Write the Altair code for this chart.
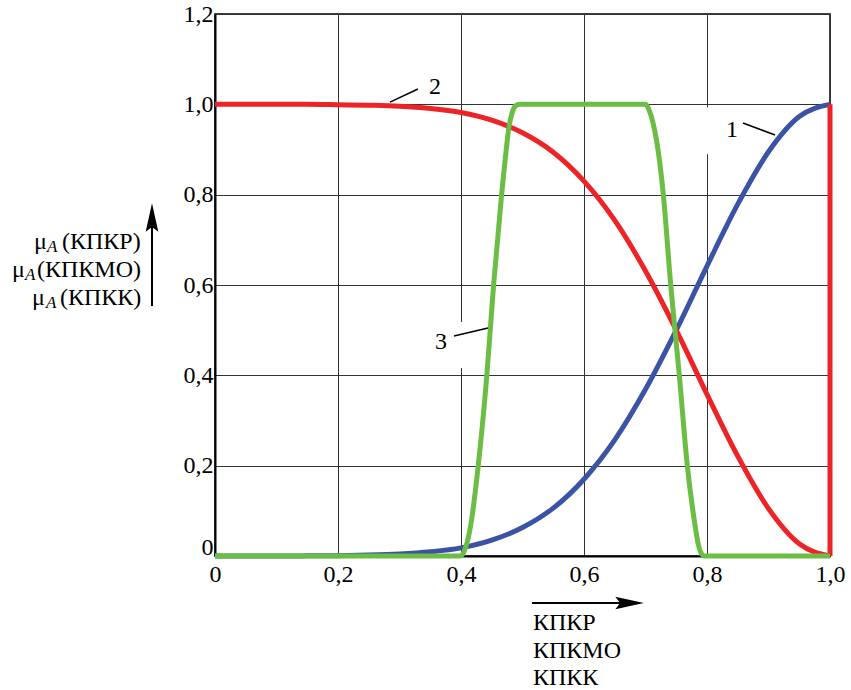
import altair as alt
import pandas as pd

# ---- data ----
x_grid = [0.0, 0.05, 0.1, 0.15, 0.2, 0.25, 0.3, 0.35, 0.4, 0.45, 0.5,
          0.55, 0.6, 0.65, 0.7, 0.75, 0.8, 0.85, 0.9, 0.95, 1.0]
blue_y = [0.0, 0.0, 0.0, 0.0003, 0.0008, 0.002, 0.0044, 0.0093, 0.018, 0.035, 0.063,
          0.106, 0.17, 0.257, 0.369, 0.5, 0.642, 0.779, 0.895, 0.973, 1.0]
red_y = [1.0, 1.0, 1.0, 1.0, 0.999, 0.998, 0.996, 0.991, 0.982, 0.965, 0.937,
         0.894, 0.83, 0.743, 0.631, 0.5, 0.358, 0.221, 0.105, 0.027, 0.0]
green_x = [0.0, 0.40, 0.405, 0.41, 0.416, 0.428, 0.442, 0.453, 0.466, 0.472, 0.478,
           0.484, 0.49, 0.496, 0.70, 0.706, 0.712, 0.718, 0.729, 0.741, 0.755,
           0.768, 0.78, 0.786, 0.791, 0.796, 1.0]
green_y = [0.0, 0.0, 0.01, 0.03, 0.07, 0.2, 0.4, 0.6, 0.8, 0.88, 0.95,
           0.985, 0.998, 1.0, 1.0, 0.987, 0.96, 0.92, 0.8, 0.6, 0.4,
           0.2, 0.073, 0.025, 0.005, 0.0, 0.0]
red_vertical = {"x": [1.0], "y": [0.0], "y2": [1.0]}

curve_labels = ["1", "2", "3"]
label_x = [0.8407, 0.3577, 0.3675]
label_y = [0.943, 1.038, 0.4738]
leader_x = [0.8585, 0.2846, 0.3886]
leader_y = [0.9587, 1.005, 0.487]
leader_x2 = [0.9106, 0.330, 0.4439]
leader_y2 = [0.932, 1.034, 0.5048]
# white label backgrounds interrupting grid lines
mask_x = [0.7967, 0.390]
mask_x2 = [0.8228, 0.4146]
mask_y = [0.8895, 0.4162]
mask_y2 = [0.9934, 0.518]

x_ticks = [0.0, 0.2, 0.4, 0.6, 0.8, 1.0]
y_ticks = [0.0, 0.2, 0.4, 0.6, 0.8, 1.0, 1.2]
y_title_main = ["(КПКР)", "(КПКМО)", "(КПКК)"]
x_title_lines = ["КПКР", "КПКМО", "КПКК"]

BLUE = "#3a53a4"
RED = "#ed2328"
GREEN = "#6bbd45"
FONT = "Liberation Serif"
FS = 24

label_expr = "datum.value == 0 ? '0' : replace(format(datum.value, '.1f'), '.', ',')"

X = alt.X("x:Q", scale=alt.Scale(domain=[0, 1], nice=False),
          axis=alt.Axis(values=x_ticks, labelExpr=label_expr, title=None,
                        grid=True, ticks=False, labelPadding=6,
                        labelFontSize=FS, labelFont=FONT, labelColor="black",
                        domainColor="black", domainWidth=2,
                        gridColor="#333333", gridWidth=1, labelFlush=False))
Y = alt.Y("y:Q", scale=alt.Scale(domain=[0, 1.2], nice=False),
          axis=alt.Axis(values=y_ticks, labelExpr=label_expr, title=None,
                        grid=True, ticks=False, labelPadding=2,
                        labelOffset={"condition": {"test": "datum.value == 0", "value": -9},
                                     "value": 0},
                        labelFontSize=FS, labelFont=FONT, labelColor="black",
                        domainColor="black", domainWidth=2,
                        gridColor="#333333", gridWidth=1, labelFlush=False))

blue_df = pd.DataFrame({"x": x_grid, "y": blue_y})
red_df = pd.DataFrame({"x": x_grid, "y": red_y})
green_df = pd.DataFrame({"x": green_x, "y": green_y})
redv_df = pd.DataFrame(red_vertical)
lab_df = pd.DataFrame({"x": label_x, "y": label_y, "t": curve_labels})
lead_df = pd.DataFrame({"x": leader_x, "y": leader_y, "x2": leader_x2, "y2": leader_y2})
mask_df = pd.DataFrame({"x": mask_x, "y": mask_y, "x2": mask_x2, "y2": mask_y2})

masks = alt.Chart(mask_df).mark_rect(color="white").encode(
    x=X, y=Y, x2="x2:Q", y2="y2:Q")
blue = alt.Chart(blue_df).mark_line(color=BLUE, strokeWidth=5, interpolate="monotone").encode(x=X, y=Y)
red = alt.Chart(red_df).mark_line(color=RED, strokeWidth=5, interpolate="monotone").encode(x=X, y=Y)
redv = alt.Chart(redv_df).mark_rule(color=RED, strokeWidth=5).encode(x=X, y=Y, y2="y2:Q")
green = alt.Chart(green_df).mark_line(color=GREEN, strokeWidth=5, interpolate="monotone").encode(x=X, y=Y)
leaders = alt.Chart(lead_df).mark_rule(color="black", strokeWidth=1.5).encode(
    x=X, y=Y, x2="x2:Q", y2="y2:Q")
labels = alt.Chart(lab_df).mark_text(font=FONT, fontSize=FS, color="black").encode(
    x=X, y=Y, text="t:N")

one = pd.DataFrame({"a": [0]})
extras = []

# y-axis title: mu, italic subscript A, and the parenthesised name
mu_x = [-181, -203, -183]
a_x = [-168, -190, -169]
paren_x = [-153, -178, -155]
base_y = [235, 263, 291]
for i in range(3):
    extras.append(alt.Chart(one).mark_text(font=FONT, fontSize=FS, align="left",
                                           baseline="alphabetic", color="black", text="μ")
                  .encode(x=alt.value(mu_x[i]), y=alt.value(base_y[i])))
    extras.append(alt.Chart(one).mark_text(font=FONT, fontSize=17, fontStyle="italic",
                                           align="left", baseline="alphabetic",
                                           color="black", text="A")
                  .encode(x=alt.value(a_x[i]), y=alt.value(base_y[i] + 3)))
    extras.append(alt.Chart(one).mark_text(font=FONT, fontSize=FS, align="left",
                                           baseline="alphabetic", color="black",
                                           text=y_title_main[i])
                  .encode(x=alt.value(paren_x[i]), y=alt.value(base_y[i])))

# x-axis title
xt_base = [616, 644, 671]
for i in range(3):
    extras.append(alt.Chart(one).mark_text(font=FONT, fontSize=FS, align="left",
                                           baseline="alphabetic", color="black",
                                           text=x_title_lines[i])
                  .encode(x=alt.value(318), y=alt.value(xt_base[i])))

arrow_shape = "M0,-1 L0.4,0.8 L0,0.5 L-0.4,0.8 Z"
# vertical arrow (y title)
extras.append(alt.Chart(one).mark_rule(color="black", strokeWidth=2).encode(
    x=alt.value(-63), y=alt.value(292), y2=alt.value(208)))
extras.append(alt.Chart(one).mark_point(shape=arrow_shape, filled=True, size=1000,
                                        color="black", opacity=1, strokeWidth=0).encode(
    x=alt.value(-63), y=alt.value(205)))
# horizontal arrow (x title)
extras.append(alt.Chart(one).mark_rule(color="black", strokeWidth=2).encode(
    x=alt.value(317), x2=alt.value(410), y=alt.value(589)))
extras.append(alt.Chart(one).mark_point(shape=arrow_shape, filled=True, size=1000, angle=90,
                                        color="black", opacity=1, strokeWidth=0).encode(
    x=alt.value(413), y=alt.value(589)))

chart = alt.layer(masks, blue, red, redv, green, leaders, labels, *extras).properties(
    width=615, height=542,
    autosize=alt.AutoSizeParams(type="none"),
    padding={"left": 215, "top": 14, "right": 21, "bottom": 134},
    background="white",
).configure_view(stroke="black", strokeWidth=1.5)

chart.save("out.html", embed_options={"renderer": "svg", "actions": False})
